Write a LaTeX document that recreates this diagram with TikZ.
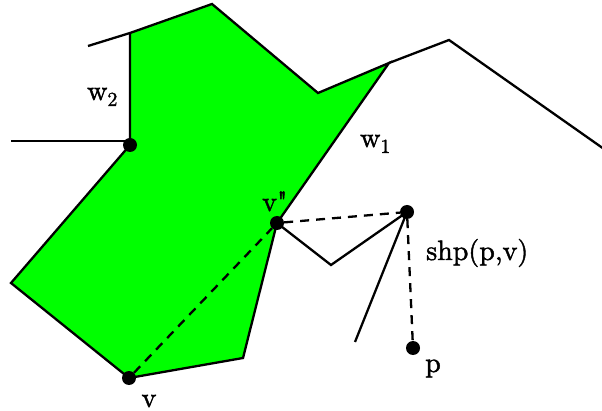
\documentclass[tikz,border=0pt]{standalone}
\definecolor{polygreen}{RGB}{0,255,0}
\font\labelfont="[lmroman10-regular]:embolden=1.5" at 28pt
\font\subfont="[lmroman10-regular]:embolden=1.5" at 20pt
\tikzset{
  edge/.style={line width=2.3pt, line join=miter},
  path/.style={line width=2.3pt, dash pattern=on 9pt off 7pt},
  dot/.style={circle, fill=black, inner sep=0pt, minimum size=14pt},
  lbl/.style={inner sep=0pt, font=\labelfont},
}
\begin{document}
\begin{tikzpicture}[x=1pt,y=-1pt]
\useasboundingbox (0,0) rectangle (602,411);
% polygon vertices
\coordinate (A) at (130,33);
\coordinate (B) at (212,4);
\coordinate (C) at (318,93);
\coordinate (D) at (389,63);
\coordinate (E) at (243,358);
\coordinate (F) at (11,283);
\coordinate (L1) at (88,46);
\coordinate (L2) at (11,141);
\coordinate (P1) at (449,40);
\coordinate (P2) at (604,149);
\coordinate (Q) at (331,265);
\coordinate (R) at (355,342);
\coordinate (W) at (130,145);
\coordinate (VV) at (277,223);
\coordinate (V) at (129,378);
\coordinate (S) at (407,212);
\coordinate (PP) at (413,348);
\fill[polygreen] (A) -- (B) -- (C) -- (D) -- (VV) -- (E) -- (V) -- (F) -- (W) -- cycle;
\draw[edge] (W) -- (A) -- (B) -- (C) -- (D) -- (VV) -- (E) -- (V) -- (F) -- (W);
\draw[edge] (L1) -- (A);
\draw[edge] (L2) -- (129,141);
\draw[edge] (D) -- (P1) -- (P2);
\draw[edge] (VV) -- (Q) -- (S) -- (R);
\node[dot] (w) at (W) {};
\node[dot] (vv) at (VV) {};
\node[dot] (v) at (V) {};
\node[dot] (s) at (S) {};
\node[dot] (p) at (PP) {};
\draw[path] (v) -- (vv);
\draw[path] (vv) -- (s);
\draw[path] (s) -- (p);
\node[lbl, anchor=base west] (lw2) at (87,100) {w\raisebox{-6pt}{\subfont 2}};
\node[lbl, anchor=base west] (lw1) at (360,147) {w\raisebox{-6pt}{\subfont 1}};
\node[lbl, anchor=base west] (lvv) at (262,211) {v"};
\node[lbl, anchor=base] (lv) at (149,407) {v};
\node[lbl, anchor=base west] (ls) at (426,260) {shp(p,v)};
\node[lbl, anchor=base west] (lp) at (425,372) {p};
\end{tikzpicture}
\end{document}
